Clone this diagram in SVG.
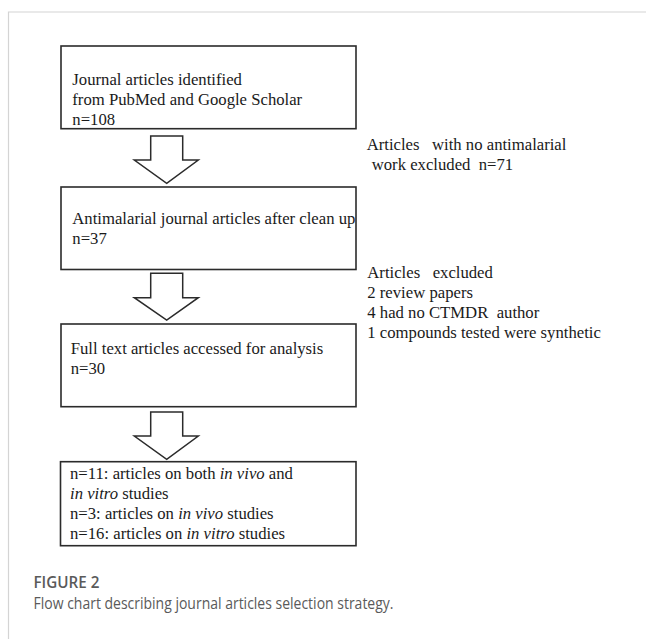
<svg xmlns="http://www.w3.org/2000/svg" width="646" height="639" viewBox="0 0 646 639">
<style>
.box{fill:#fff;stroke:#2b2b2b;stroke-width:1.6}
.arrow{fill:#fff;stroke:#2b2b2b;stroke-width:1.5;stroke-linejoin:miter}
.t{font-family:"Liberation Serif","Times New Roman",serif;font-size:16.7px;fill:#1a1a1a;white-space:pre}
.i{font-style:italic}
.cap{font-family:"Open Sans","Noto Sans",sans-serif;fill:#5a5a5a}
</style>
<rect width="646" height="639" fill="#fff"/>
<path d="M8.5 639 V12 H646" fill="none" stroke="#d4d4d4" stroke-width="1.2"/>
<g id="connectors">
<path class="arrow" d="M150.7 136 H182.7 V160 H198.3 L166.7 183.3 L134.3 160 H150.7 Z"/>
<path class="arrow" d="M150.7 273.3 H182.7 V297.7 H198.3 L166.7 320 L134.3 297.7 H150.7 Z"/>
<path class="arrow" d="M150.7 412 H182.7 V436 H198.3 L166.7 459.3 L134.3 436 H150.7 Z"/>
</g>
<g id="node1">
<rect class="box" x="61" y="46" width="295" height="82.7"/>
<text class="t" x="72.3" y="85">Journal articles identified</text>
<text class="t" x="72.3" y="105">from PubMed and Google Scholar</text>
<text class="t" x="72.3" y="124.5">n=108</text>
</g>
<g id="node2">
<rect class="box" x="61" y="187" width="295" height="82.5"/>
<text class="t" x="72.3" y="224">Antimalarial journal articles after clean up</text>
<text class="t" x="72.3" y="244">n=37</text>
</g>
<g id="node3">
<rect class="box" x="61" y="324" width="295" height="82.7"/>
<text class="t" x="70.7" y="354">Full text articles accessed for analysis</text>
<text class="t" x="70.7" y="374">n=30</text>
</g>
<g id="node4">
<rect class="box" x="60.5" y="461.7" width="295.5" height="84"/>
<text class="t" x="70" y="478.5">n=11: articles on both <tspan class="i">in vivo</tspan> and</text>
<text class="t" x="70" y="499"><tspan class="i">in vitro</tspan> studies</text>
<text class="t" x="70" y="519">n=3: articles on <tspan class="i">in vivo</tspan> studies</text>
<text class="t" x="70" y="539">n=16: articles on <tspan class="i">in vitro</tspan> studies</text>
</g>
<g id="excluded1">
<text class="t" x="366.7" y="150">Articles   with no antimalarial</text>
<text class="t" x="371.7" y="170">work excluded  n=71</text>
</g>
<g id="excluded2">
<text class="t" x="367.3" y="277.5">Articles   excluded</text>
<text class="t" x="367.3" y="297.7">2 review papers</text>
<text class="t" x="367.3" y="317.7">4 had no CTMDR  author</text>
<text class="t" x="367.3" y="337.7">1 compounds tested were synthetic</text>
</g>
<g id="caption">
<text class="cap" x="33.5" y="588" font-size="16.5" font-weight="600" textLength="66" lengthAdjust="spacingAndGlyphs">FIGURE 2</text>
<text class="cap" x="33.5" y="609" font-size="15.5" textLength="360" lengthAdjust="spacingAndGlyphs">Flow chart describing journal articles selection strategy.</text>
</g>
</svg>
